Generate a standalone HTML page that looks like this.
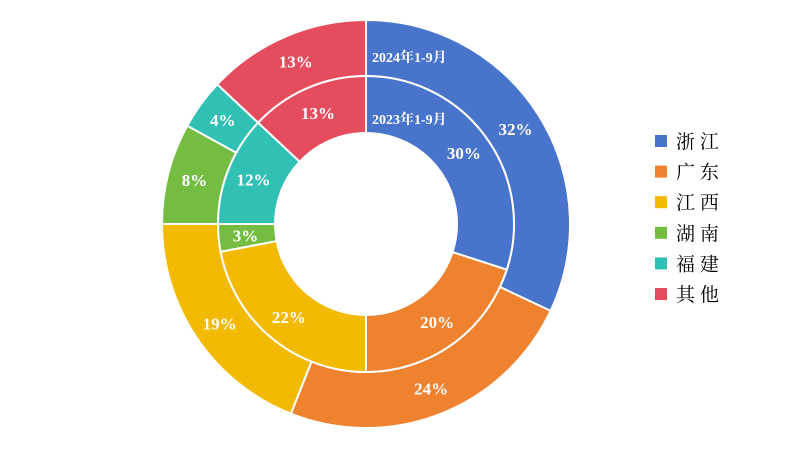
<!DOCTYPE html>
<html><head><meta charset="utf-8"><style>
html,body{margin:0;padding:0;background:#fff;width:799px;height:449px;overflow:hidden}
svg{display:block}
</style></head><body>
<svg id="chart" width="799" height="449" xmlns="http://www.w3.org/2000/svg"></svg>
<script>
const categories = ["浙 江","广 东","江 西","湖 南","福 建","其 他"];
const colors = ["#4874CB","#EE822F","#F2BA02","#75BD42","#30C0B4","#E54C5E"];
const outerValues = [32,24,19,8,4,13];
const innerValues = [30,20,22,3,12,13];
const outerLabel = "2024年1-9月";
const innerLabel = "2023年1-9月";

const NS="http://www.w3.org/2000/svg";
const svg=document.getElementById('chart');
const cx=366, cy=224;
function mk(t,a){const e=document.createElementNS(NS,t);for(const k in a)e.setAttribute(k,a[k]);return e;}
function pt(r,a){return [cx+r*Math.sin(a), cy-r*Math.cos(a)];}
function arc(r0,r1,a0,a1){
  const large=(a1-a0)>Math.PI?1:0;
  const [x0,y0]=pt(r1,a0),[x1,y1]=pt(r1,a1),[x2,y2]=pt(r0,a1),[x3,y3]=pt(r0,a0);
  return `M${x0},${y0}A${r1},${r1} 0 ${large} 1 ${x1},${y1}L${x2},${y2}A${r0},${r0} 0 ${large} 0 ${x3},${y3}Z`;
}
function ring(vals,r0,r1,lr,name){
  const tot=vals.reduce((a,b)=>a+b,0);let a=0;
  vals.forEach((v,i)=>{
    const a0=a/tot*2*Math.PI; a+=v; const a1=a/tot*2*Math.PI;
    const p=mk('path',{d:arc(r0,r1,a0,a1),fill:colors[i],stroke:'#fff','stroke-width':2});
    
    
    svg.appendChild(p);
    const [lx,ly]=pt(lr,(a0+a1)/2);
    const t=mk('text',{x:lx,y:ly+6,'text-anchor':'middle',fill:'#fff','font-size':17,'font-weight':'bold','font-family':'"Liberation Serif",serif'});
    t.textContent=v+'%';
    
    
    svg.appendChild(t);
  });
}
ring(outerValues,148,204,177,'outer');
ring(innerValues,91,148,121,'inner');
[[outerLabel,62,'outer-series-title'],[innerLabel,124,'inner-series-title']].forEach(([s,y,n])=>{
  const t=mk('text',{x:372,y:y,fill:'#fff','font-size':14,'font-weight':'bold','font-family':'"Liberation Serif","Noto Serif CJK SC",serif'});
  t.textContent=s;
  
  
  svg.appendChild(t);
});
categories.forEach((c,i)=>{
  const y=141+i*30.6;
  const g=mk('g',{});
  
  
  g.appendChild(mk('rect',{x:655,y:y-6,width:12,height:12,fill:colors[i]}));
  const t=mk('text',{x:676,y:y+7,fill:'#000','font-size':19,'font-family':'"Noto Serif CJK SC",serif'});
  t.textContent=c;
  g.appendChild(t);
  svg.appendChild(g);
});
</script>
</body></html>
